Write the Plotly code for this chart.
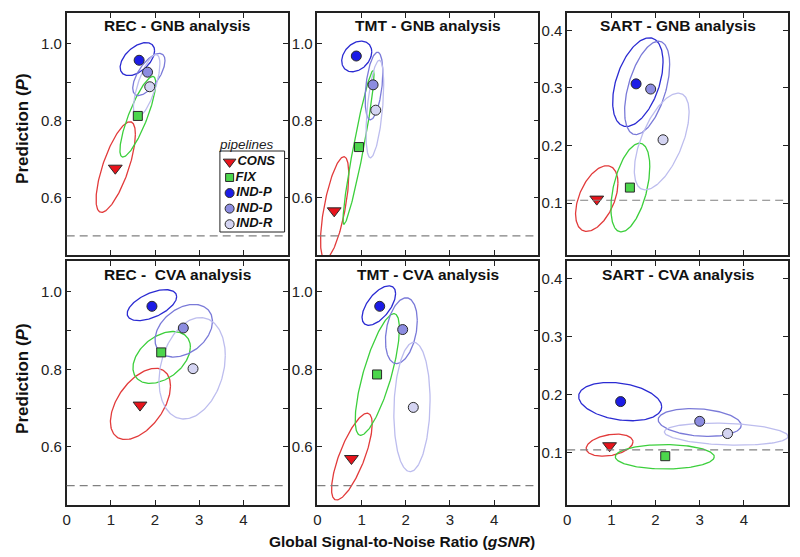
import numpy as np
import plotly.graph_objects as go
from plotly.subplots import make_subplots

# pipeline order: CONS, FIX, IND-P, IND-D, IND-R
pipelines = ["CONS", "FIX", "IND-P", "IND-D", "IND-R"]

# markers: gSNR (x) and prediction P (y) per panel
rec_gnb_gsnr = [1.10, 1.61, 1.64, 1.83, 1.88]
rec_gnb_pred = [0.676, 0.812, 0.957, 0.926, 0.888]
tmt_gnb_gsnr = [0.38, 0.94, 0.88, 1.26, 1.32]
tmt_gnb_pred = [0.565, 0.731, 0.968, 0.893, 0.827]
sart_gnb_gsnr = [0.67, 1.42, 1.56, 1.89, 2.17]
sart_gnb_pred = [0.107, 0.127, 0.307, 0.298, 0.210]
rec_cva_gsnr = [1.66, 2.14, 1.93, 2.64, 2.86]
rec_cva_pred = [0.708, 0.844, 0.963, 0.907, 0.802]
tmt_cva_gsnr = [0.77, 1.35, 1.41, 1.93, 2.17]
tmt_cva_pred = [0.570, 0.787, 0.963, 0.903, 0.702]
sart_cva_gsnr = [0.96, 2.22, 1.21, 3.00, 3.63]
sart_cva_pred = [0.112, 0.094, 0.188, 0.154, 0.133]

# confidence ellipses: (centre x, centre y, half-range x, half-range y, correlation)
rec_gnb_ell = [(1.11, 0.679, 0.445, 0.118, 0.72), (1.61, 0.810, 0.405, 0.105, 0.83),
               (1.60, 0.960, 0.390, 0.043, 0.50), (1.86, 0.920, 0.365, 0.055, 0.65),
               (1.81, 0.890, 0.300, 0.082, 0.70)]
tmt_gnb_ell = [(0.39, 0.573, 0.320, 0.133, 0.65), (0.93, 0.730, 0.350, 0.200, 0.94),
               (0.89, 0.967, 0.340, 0.040, 0.30), (1.28, 0.890, 0.200, 0.088, 0.40),
               (1.30, 0.830, 0.200, 0.127, 0.50)]
sart_gnb_ell = [(0.67, 0.108, 0.480, 0.057, 0.47), (1.43, 0.127, 0.440, 0.077, 0.47),
                (1.60, 0.310, 0.570, 0.077, 0.45), (1.81, 0.300, 0.510, 0.081, 0.50),
                (2.14, 0.207, 0.620, 0.084, 0.60)]
rec_cva_ell = [(1.67, 0.711, 0.680, 0.092, 0.50), (2.15, 0.831, 0.650, 0.067, 0.40),
               (1.93, 0.966, 0.560, 0.040, 0.55), (2.65, 0.900, 0.650, 0.068, 0.35),
               (2.84, 0.803, 0.750, 0.131, 0.25)]
tmt_cva_ell = [(0.78, 0.575, 0.460, 0.112, 0.75), (1.355, 0.787, 0.500, 0.157, 0.75),
               (1.39, 0.965, 0.380, 0.051, 0.60), (1.90, 0.900, 0.360, 0.085, 0.30),
               (2.14, 0.703, 0.410, 0.167, 0.10)]
sart_cva_ell = [(0.96, 0.113, 0.530, 0.019, 0.30), (2.21, 0.093, 1.120, 0.021, 0.00),
                (1.20, 0.188, 0.940, 0.033, -0.27), (3.00, 0.152, 0.940, 0.024, -0.20),
                (3.60, 0.132, 1.400, 0.019, -0.20)]

chance_rec_tmt = 0.5
chance_sart = 0.105

titles = ["REC - GNB analysis", "TMT - GNB analysis", "SART - GNB analysis",
          "REC -  CVA analysis", "TMT - CVA analysis", "SART - CVA analysis"]

FONT = "Liberation Sans, Arial, sans-serif"
marker_fill = ["#e8141c", "#4cd64c", "#1c1ce6", "#8c8ce0", "#d4d4f2"]
marker_symbol = ["triangle-down", "square", "circle", "circle", "circle"]
marker_size = [12, 9, 10, 10, 10]
ellipse_color = ["#e23b3b", "#3ccf3c", "#2b2bd2", "#7a7ad8", "#bdbdee"]

panels = [
    (1, 1, rec_gnb_gsnr, rec_gnb_pred, rec_gnb_ell, chance_rec_tmt),
    (1, 2, tmt_gnb_gsnr, tmt_gnb_pred, tmt_gnb_ell, chance_rec_tmt),
    (1, 3, sart_gnb_gsnr, sart_gnb_pred, sart_gnb_ell, chance_sart),
    (2, 1, rec_cva_gsnr, rec_cva_pred, rec_cva_ell, chance_rec_tmt),
    (2, 2, tmt_cva_gsnr, tmt_cva_pred, tmt_cva_ell, chance_rec_tmt),
    (2, 3, sart_cva_gsnr, sart_cva_pred, sart_cva_ell, chance_sart),
]

W, H = 800, 557
col_px = [(63, 285), (315, 537), (566, 788)]
row_px = [(13, 255), (261, 505)]

fig = make_subplots(rows=2, cols=3)

t = np.linspace(0, 2 * np.pi, 181)
for row, col, gsnr, pred, ells, chance in panels:
    for i, (cx, cy, rx, ry, rho) in enumerate(ells):
        phi = np.arccos(rho)
        fig.add_trace(go.Scatter(
            x=cx + rx * np.cos(t), y=cy + ry * np.cos(t + phi),
            mode="lines", line=dict(color=ellipse_color[i], width=1.3),
            hoverinfo="skip", showlegend=False,
        ), row=row, col=col)
    for i in range(len(pipelines)):
        fig.add_trace(go.Scatter(
            x=[gsnr[i]], y=[pred[i]], mode="markers", name=pipelines[i],
            marker=dict(symbol=marker_symbol[i], size=marker_size[i], color=marker_fill[i],
                        line=dict(color="#2a2a2a", width=1)),
            showlegend=False,
        ), row=row, col=col)
    fig.add_hline(y=chance, line=dict(color="#808080", width=1.2, dash="8px,5px"),
                  row=row, col=col)

axis_common = dict(showline=True, mirror="ticks", linecolor="#222", linewidth=1.5,
                   ticks="inside", ticklen=5, tickcolor="#222", showgrid=False, zeroline=False,
                   tickfont=dict(family=FONT, size=15, color="#222"))

for row, col, *_ in panels:
    x0, x1 = col_px[col - 1]
    y0, y1 = row_px[row - 1]
    fig.update_xaxes(domain=[x0 / W, x1 / W], range=[0, 5], tickvals=[0, 1, 2, 3, 4],
                     showticklabels=(row == 2), row=row, col=col, **axis_common)
    if col == 3:
        fig.update_yaxes(range=[0.01, 0.43], tickvals=[0.1, 0.2, 0.3, 0.4], tickformat=".1f",
                         domain=[1 - y1 / H, 1 - y0 / H], row=row, col=col, **axis_common)
    else:
        fig.update_yaxes(range=[0.45, 1.08], tickvals=[0.6, 0.7, 0.8, 0.9, 1.0],
                         ticktext=["0.6", "", "0.8", "", "1.0"],
                         domain=[1 - y1 / H, 1 - y0 / H], row=row, col=col, **axis_common)

# panel titles
for k, title in enumerate(titles):
    row, col = k // 3, k % 3
    x0, x1 = col_px[col]
    ty = [25, 274][row]
    fig.add_annotation(x=(x0 + x1) / 2 / W, y=1 - ty / H, xref="paper", yref="paper",
                       text=f"<b>{title}</b>", showarrow=False,
                       xanchor="center", yanchor="middle",
                       font=dict(family=FONT, size=15.5, color="#111"))

# axis titles
for yc in [128, 378]:
    fig.add_annotation(x=18 / W, y=1 - yc / H, xref="paper", yref="paper",
                       text="<b>Prediction (<i>P</i>)</b>", textangle=-90, showarrow=False,
                       xanchor="center", yanchor="middle",
                       font=dict(family=FONT, size=17, color="#111"))
fig.add_annotation(x=0.5, y=1 - 541 / H, xref="paper", yref="paper",
                   text="<b>Global Signal-to-Noise Ratio (<i>gSNR</i>)</b>", showarrow=False,
                   xanchor="center", yanchor="middle",
                   font=dict(family=FONT, size=15.5, color="#111"))

# legend box inside the first panel
lx0, lx1, ly0, ly1 = 217, 282, 151, 232
fig.update_layout(
    xaxis7=dict(domain=[lx0 / W, lx1 / W], range=[0, 1], visible=False, fixedrange=True),
    yaxis7=dict(domain=[1 - ly1 / H, 1 - ly0 / H], range=[4.5, -0.7], visible=False,
                fixedrange=True, anchor="x7"),
)
for i, name in enumerate(pipelines):
    fig.add_trace(go.Scatter(
        x=[0.15], y=[i], xaxis="x7", yaxis="y7", mode="markers+text",
        text=[f"<b><i>{name}</i></b>"], textposition="middle right",
        textfont=dict(family=FONT, size=13, color="#111"),
        marker=dict(symbol=marker_symbol[i], size=marker_size[i] - 1, color=marker_fill[i],
                    line=dict(color="#2a2a2a", width=1)),
        showlegend=False, hoverinfo="skip", cliponaxis=False,
    ))
fig.add_shape(type="rect", xref="paper", yref="paper", x0=lx0 / W, x1=lx1 / W,
              y0=1 - ly1 / H, y1=1 - ly0 / H, line=dict(color="#222", width=1))
fig.add_annotation(x=244 / W, y=1 - 144 / H, xref="paper", yref="paper",
                   text="<i>pipelines</i>", showarrow=False,
                   xanchor="center", yanchor="middle",
                   font=dict(family=FONT, size=13.5, color="#222"))

fig.update_layout(
    width=W, height=H, margin=dict(l=0, r=0, t=0, b=0),
    plot_bgcolor="white", paper_bgcolor="white", showlegend=False,
    font=dict(family=FONT),
)

# page body has a default 8px margin; drop it so the figure fills the window
fig.write_html("out.html", config={"displayModeBar": False},
               post_script="document.body.style.margin='0';")
